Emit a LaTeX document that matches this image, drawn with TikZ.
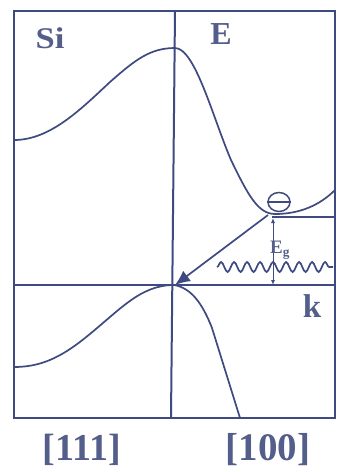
\documentclass[tikz,border=0pt]{standalone}
\usepackage{fontspec}
\setmainfont{Liberation Serif}
\usetikzlibrary{arrows.meta,decorations.pathmorphing,shapes.geometric}
\definecolor{ink}{RGB}{62,74,128}
\definecolor{txt}{RGB}{84,94,138}
\tikzset{
  band/.style={draw=ink,line width=1.7pt},
  frameline/.style={draw=ink,line width=2pt},
  lbl/.style={text=txt,font=\bfseries,inner sep=0pt},
}
\begin{document}
\begin{tikzpicture}[x=1pt,y=-1pt]
\useasboundingbox[fill=white] (0,0) rectangle (341,472);
% frame and axes
\draw[frameline] (14,11) rectangle (335,418);
\draw[frameline] (175,11) -- (171,418);
\draw[frameline] (14,285) -- (335,285);
% key points
\coordinate (vmax) at (175,285);
\coordinate (cmin) at (268,215);
\coordinate (gtop) at (273,218);
\coordinate (gbot) at (273,285);
% upper band
\draw[band] (14,140) .. controls (50,140) and (80,110) .. (110,82)
  .. controls (135,60) and (150,48) .. (175,48)
  .. controls (195,48) and (213,118) .. (231,160)
  .. controls (248,195) and (258,214) .. (275,214)
  .. controls (300,214) and (320,205) .. (335,190);
% lower bands
\draw[band] (14,367) .. controls (40,367) and (60,358) .. (85,338)
  .. controls (120,310) and (140,285) .. (174,285);
\draw[band] (174,285) .. controls (192,288) and (203,305) .. (212,328) -- (240,418);
% minimum line
\draw[band] (272,217) -- (335,217);
% electron
\node[draw=ink,line width=1.5pt,ellipse,minimum width=22pt,minimum height=19pt,inner sep=0pt] (el) at (279,202) {};
\draw[ink,line width=1.6pt] (el.west) -- (el.east);
% recombination arrow
\draw[band,-{Latex[length=15pt,width=13pt]}] (cmin) -- (vmax);
% Eg arrow
\draw[ink,line width=1pt,{Latex[length=5pt,width=4pt]}-{Latex[length=5pt,width=4pt]}] (gtop) -- (gbot);
% photon
\draw[band,decorate,decoration={snake,amplitude=5pt,segment length=13pt}] (217,267) -- (333,267);
% labels
\node[lbl,font=\bfseries\fontsize{30}{30}\selectfont,xscale=1.15] (si) at (50,38) {Si};
\node[lbl,font=\bfseries\fontsize{32}{32}\selectfont] (e) at (221,34) {E};
\node[lbl,font=\bfseries\fontsize{33}{33}\selectfont] (k) at (312,306) {k};
\node[lbl,font=\bfseries\fontsize{19}{19}\selectfont] (eg) at (280,250) {E$_{\mathbf{g}}$};
\node[lbl,font=\bfseries\fontsize{38}{38}\selectfont] (l111) at (82,450) {[111]};
\node[lbl,font=\bfseries\fontsize{39}{39}\selectfont] (l100) at (268,450) {[100]};
\end{tikzpicture}
\end{document}
